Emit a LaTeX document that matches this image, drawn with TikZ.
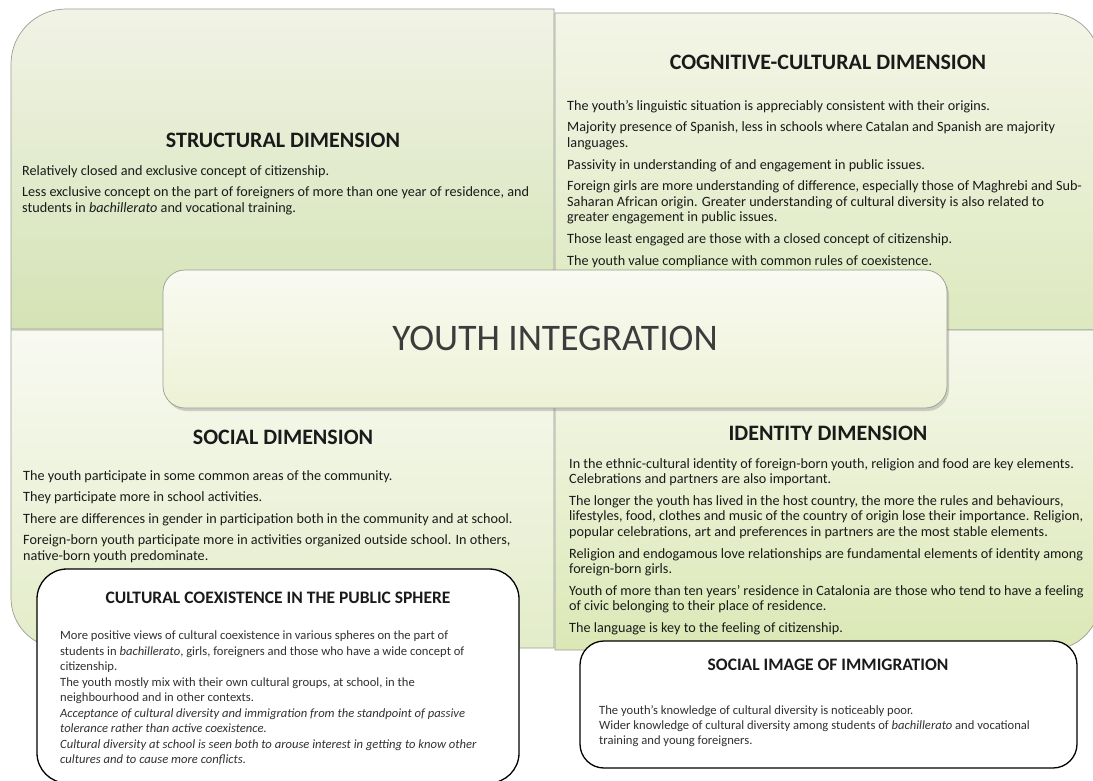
\documentclass[tikz,border=0pt]{standalone}
\usepackage{fontspec}
\setmainfont{Carlito}
\usetikzlibrary{shadows}
\definecolor{ink}{HTML}{1A1A1A}
\definecolor{qline}{HTML}{9A9E94}
\definecolor{tlTop}{HTML}{F1F3E6}
\definecolor{tlBot}{HTML}{D4E3B5}
\definecolor{trTop}{HTML}{F3F5E7}
\definecolor{trBot}{HTML}{DDE9BF}
\definecolor{blTop}{HTML}{F8FAF1}
\definecolor{blBot}{HTML}{E3ECC9}
\definecolor{brTop}{HTML}{F6F8ED}
\definecolor{brBot}{HTML}{DBE8B5}
\definecolor{coreTop}{HTML}{F9FAF2}
\definecolor{coreBot}{HTML}{EDF2D5}
\begin{document}
\begin{tikzpicture}[x=1pt,y=-1pt,
  quad/.style={draw=qline, line width=0.7pt},
  dimtitle/.style={font=\fontsize{22}{26}\selectfont\bfseries, text=ink, inner sep=0pt},
  body/.style={font=\fontsize{14.2}{15.6}\selectfont, text=ink, align=left, anchor=north west, inner sep=0pt},
  notebox/.style={draw=black, line width=1.3pt, fill=white, inner sep=0pt},
  notetitle/.style={font=\fontsize{17.5}{20}\selectfont\bfseries, text=ink, inner sep=0pt},
  notebody/.style={font=\fontsize{12.6}{15.5}\selectfont, text=ink!90, align=left, anchor=north west, inner sep=0pt}
]
\useasboundingbox[fill=white] (0,0) rectangle (1093,780);

% four quadrants, each with one rounded outer corner
\path[quad, top color=tlTop, bottom color=tlBot]
  (11,329) -- (11,64) arc[start angle=180, end angle=270, radius=55] -- (554,9) -- (554,329) -- cycle;
\path[quad, top color=trTop, bottom color=trBot]
  (555,330) -- (555,13) -- (1050,13) arc[start angle=270, end angle=360, radius=50] -- (1100,330) -- cycle;
\path[quad, top color=blTop, bottom color=blBot]
  (11,330) -- (11,598) arc[start angle=180, end angle=90, radius=50] -- (554,648) -- (554,330) -- cycle;
\path[quad, top color=brTop, bottom color=brBot]
  (555,330) -- (555,650) -- (1050,650) arc[start angle=90, end angle=0, radius=50] -- (1100,330) -- cycle;

% dimension headings and findings
\node[dimtitle] (structT) at (283,140) {STRUCTURAL DIMENSION};
\node[body] (structB) at (22,165) {Relatively closed and exclusive concept of citizenship.\\[6pt]
Less exclusive concept on the part of foreigners of more than one year of residence, and\\
students in \textit{bachillerato} and vocational training.};

\node[dimtitle] (cogT) at (828,62) {COGNITIVE-CULTURAL DIMENSION};
\node[body] (cogB) at (567,100) {The youth’s linguistic situation is appreciably consistent with their origins.\\[6pt]
Majority presence of Spanish, less in schools where Catalan and Spanish are majority\\
languages.\\[6pt]
Passivity in understanding of and engagement in public issues.\\[6pt]
Foreign girls are more understanding of difference, especially those of Maghrebi and Sub-\\
Saharan African origin. Greater understanding of cultural diversity is also related to\\
greater engagement in public issues.\\[6pt]
Those least engaged are those with a closed concept of citizenship.\\[6pt]
The youth value compliance with common rules of coexistence.};

\node[dimtitle] (socT) at (283,437) {SOCIAL DIMENSION};
\node[body] (socB) at (23,470) {The youth participate in some common areas of the community.\\[6pt]
They participate more in school activities.\\[6pt]
There are differences in gender in participation both in the community and at school.\\[6pt]
Foreign-born youth participate more in activities organized outside school. In others,\\
native-born youth predominate.};

\node[dimtitle] (idT) at (828,433) {IDENTITY DIMENSION};
\node[body] (idB) at (569,458) {In the ethnic-cultural identity of foreign-born youth, religion and food are key elements.\\
Celebrations and partners are also important.\\[6pt]
The longer the youth has lived in the host country, the more the rules and behaviours,\\
lifestyles, food, clothes and music of the country of origin lose their importance. Religion,\\
popular celebrations, art and preferences in partners are the most stable elements.\\[6pt]
Religion and endogamous love relationships are fundamental elements of identity among\\
foreign-born girls.\\[6pt]
Youth of more than ten years’ residence in Catalonia are those who tend to have a feeling\\
of civic belonging to their place of residence.\\[6pt]
The language is key to the feeling of citizenship.};

% central concept
\node[draw=qline, line width=0.7pt, rounded corners=22pt, top color=coreTop, bottom color=coreBot,
      minimum width=784pt, minimum height=138pt, inner sep=0pt,
      drop shadow={shadow xshift=2pt, shadow yshift=-3pt, opacity=0.35}] (core) at (555,339) {};
\node[font=\fontsize{37.5}{40}\selectfont, text=ink!85, inner sep=0pt] (coreT) at (555,338) {YOUTH INTEGRATION};

% public sphere box
\node[notebox, rounded corners=30pt, minimum width=482pt, minimum height=214pt] (ccBox) at (278,676) {};
\node[notetitle] (ccT) at (278,598) {CULTURAL COEXISTENCE IN THE PUBLIC SPHERE};
\node[notebody] (ccB) at (60,631) {More positive views of cultural coexistence in various spheres on the part of\\
students in \textit{bachillerato}, girls, foreigners and those who have a wide concept of\\
citizenship.\\
The youth mostly mix with their own cultural groups, at school, in the\\
neighbourhood and in other contexts.\\
\textit{Acceptance of cultural diversity and immigration from the standpoint of passive}\\
\textit{tolerance rather than active coexistence.}\\
\textit{Cultural diversity at school is seen both to arouse interest in getting to know other}\\
\textit{cultures and to cause more conflicts.}};

% social image box
\node[notebox, rounded corners=24pt, minimum width=497pt, minimum height=127pt] (siBox) at (828.5,704.5) {};
\node[notetitle] (siT) at (828,665) {SOCIAL IMAGE OF IMMIGRATION};
\node[notebody, font=\fontsize{12.6}{15}\selectfont] (siB) at (599,705) {The youth’s knowledge of cultural diversity is noticeably poor.\\
Wider knowledge of cultural diversity among students of \textit{bachillerato} and vocational\\
training and young foreigners.};
\end{tikzpicture}
\end{document}
